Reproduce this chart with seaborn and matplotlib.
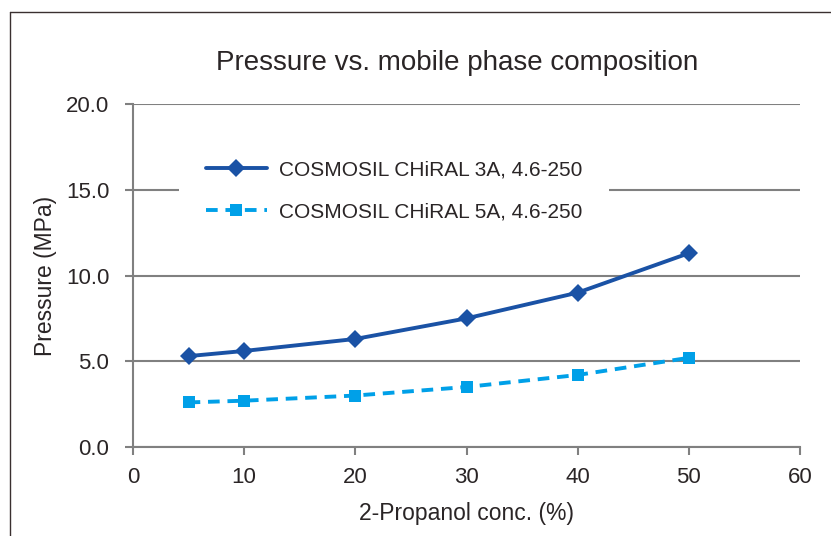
import numpy as np
import pandas as pd
import matplotlib
matplotlib.use("Agg")
import matplotlib.pyplot as plt
import seaborn as sns
from matplotlib.lines import Line2D

# data
conc = [5, 10, 20, 30, 40, 50]
p_3a = [5.3, 5.6, 6.3, 7.5, 9.0, 11.3]
p_5a = [2.6, 2.7, 3.0, 3.5, 4.2, 5.2]
lab_3a = "COSMOSIL CHiRAL 3A, 4.6-250"
lab_5a = "COSMOSIL CHiRAL 5A, 4.6-250"

df = pd.DataFrame({
    "conc": conc + conc,
    "pressure": p_3a + p_5a,
    "column": [lab_3a] * len(conc) + [lab_5a] * len(conc),
})

sns.set_style("white")
plt.rcParams['font.family'] = ['Liberation Sans', 'DejaVu Sans']
txt = "#2a2526"
gray = "#808080"
dark = "#1a52a5"
light = "#00a0e8"

fig = plt.figure(figsize=(8.31, 5.36), dpi=100)
ax = fig.add_axes([133/831, 1-447/536, (800-133)/831, (447-104)/536])

sns.lineplot(data=df, x="conc", y="pressure", hue="column", style="column",
             palette={lab_3a: dark, lab_5a: light},
             markers={lab_3a: "D", lab_5a: "s"},
             dashes={lab_3a: "", lab_5a: (3, 2)},
             linewidth=2.8, markersize=9, markeredgewidth=0,
             ax=ax, legend=False, zorder=3)

ax.set_xlim(0, 60)
ax.set_ylim(0, 20)
ax.set_xticks(range(0, 61, 10))
ax.set_yticks(np.arange(0, 20.1, 5))
ax.set_yticklabels(["%.1f" % v for v in np.arange(0, 20.1, 5)])
ax.yaxis.grid(True, color=gray, linewidth=1.5)
ax.set_axisbelow(True)
for s in ["top", "right"]:
    ax.spines[s].set_visible(False)
for s in ["left", "bottom"]:
    ax.spines[s].set_color(gray)
    ax.spines[s].set_linewidth(1.5)
ax.tick_params(axis="both", which="major", length=6, width=1.5, color=gray,
               labelsize=16, labelcolor=txt, direction="out")
ax.tick_params(axis="x", bottom=True, pad=8.5)
ax.tick_params(axis="y", left=True, pad=11)

ax.set_xlabel("2-Propanol conc. (%)", fontsize=16.5, color=txt, labelpad=10)
ax.set_ylabel("Pressure (MPa)", fontsize=16.5, color=txt, labelpad=6.5)
fig.text(457/831, 1-63/536, "Pressure vs. mobile phase composition",
         fontsize=20, color=txt, ha="center", va="center")

handles = [
    Line2D([], [], color=dark, lw=2.8, marker="D", markersize=9, mew=0),
    Line2D([], [], color=light, lw=2.8, ls=(0, (3, 2)), marker="s", markersize=9, mew=0),
]
leg = ax.legend(handles, [lab_3a, lab_5a], loc="upper left",
                bbox_to_anchor=((179-133)/667, (447-133)/343),
                frameon=True, facecolor="white", edgecolor="none", framealpha=1,
                fancybox=False, fontsize=15, handlelength=2.9, handletextpad=0.6,
                labelspacing=1.1, borderpad=1.3, borderaxespad=0)
for t in leg.get_texts():
    t.set_color(txt)

# outer frame (left and top visible)
fig.add_artist(Line2D([10/831, 10/831], [0, 1-12/536], color="#3a3030", lw=1.0))
fig.add_artist(Line2D([10/831, 1], [1-12/536, 1-12/536], color="#3a3030", lw=1.0))

fig.savefig("out.png", dpi=100)
